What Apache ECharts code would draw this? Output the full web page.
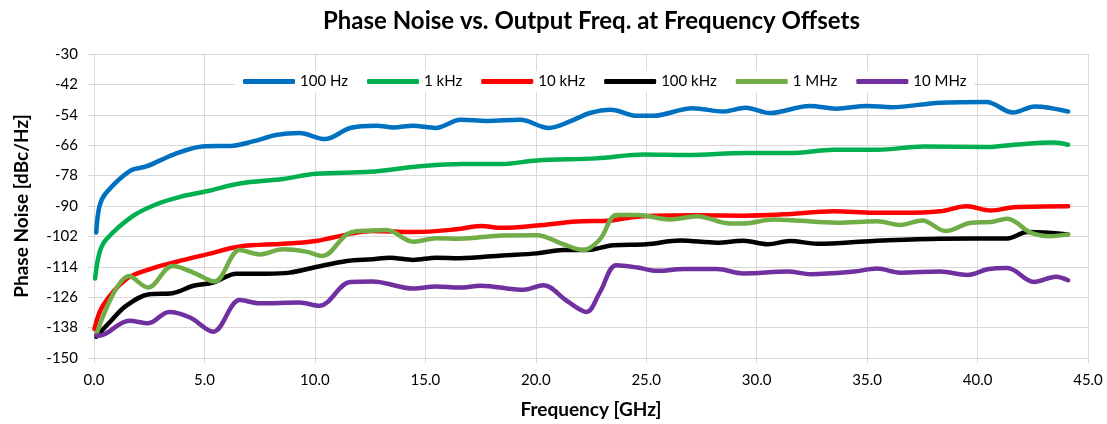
<!DOCTYPE html>
<html>
<head>
<meta charset="utf-8">
<script src="https://cdn.jsdelivr.net/npm/echarts@6/dist/echarts.min.js"></script>
<style>
  html, body { margin: 0; padding: 0; background: #fff; }
  #chart { width: 1107px; height: 424px; }
</style>
</head>
<body>
<div id="chart"></div>
<script>
// Phase noise (dBc/Hz) against output frequency (GHz), one trace per offset
const offsetNames = ['100 Hz', '1 kHz', '10 kHz', '100 kHz', '1 MHz', '10 MHz'];
const lineColors = ['#0070C0', '#00B050', '#FF0000', '#000000', '#70AD47', '#7030A0'];

const freq100Hz = [0.1, 0.25, 0.55, 1.6, 2.4, 3.6, 4.9, 6.3, 7.2, 8.3, 9.3, 10.45, 11.6, 12.8, 13.55, 14.45, 15.45, 16.6, 17.8, 19.3, 20.6, 21.55, 22.45, 23.4, 24.6, 25.3, 27.1, 28.5, 29.5, 30.6, 32.4, 33.6, 35.0, 36.1, 38.3, 40.4, 41.6, 42.6, 44.1];
const pn100Hz = [-100.5, -90, -84.8, -76.3, -74.3, -69.7, -66.5, -66.2, -64.5, -61.9, -61.2, -63.6, -59.2, -58.3, -59, -58.3, -59.2, -56, -56.4, -56, -59.2, -56.6, -53.3, -52, -54.4, -54.4, -51.4, -52.7, -51.2, -53.3, -50.5, -51.6, -50.5, -51, -49.2, -48.9, -53.1, -50.7, -52.7];

const freq1kHz = [0.05, 0.25, 0.55, 1.75, 2.8, 3.9, 5.1, 6.6, 8.55, 10.05, 12.5, 14.75, 16.7, 18.5, 20.05, 22.75, 24.9, 26.85, 29.5, 31.5, 33.5, 35.45, 37.55, 40.45, 41.65, 43.45, 44.1];
const pn1kHz = [-118.6, -108.4, -103.2, -94, -89.4, -86.4, -84.2, -81.1, -79.3, -77.3, -76.5, -74.3, -73.4, -73.4, -72, -71.2, -69.7, -69.9, -69.1, -69.1, -67.8, -67.8, -66.5, -66.7, -65.8, -64.9, -65.8];

const freq10kHz = [0.02, 0.4, 1.45, 2.5, 3.7, 5.1, 6.6, 8.55, 10.05, 11.7, 12.6, 14.45, 16.4, 17.5, 18.5, 20.05, 21.85, 23.4, 24.6, 27.3, 29.4, 31.2, 33.5, 35.3, 36.5, 38.3, 39.5, 40.6, 41.65, 44.1];
const pn10kHz = [-138.6, -129.4, -118.9, -115, -112.1, -109.1, -106, -104.9, -103.8, -100.8, -99.9, -100.3, -99.2, -97.9, -98.6, -97.7, -96.1, -95.7, -94.2, -93.7, -93.8, -93.3, -92.1, -92.7, -92.7, -92.1, -90.1, -91.8, -90.5, -90.1];

const freq100kHz = [0.1, 0.7, 1.45, 2.5, 3.55, 4.5, 5.4, 6.45, 7.8, 8.85, 10.05, 11.45, 12.6, 13.4, 14.45, 15.5, 16.55, 18.5, 20.05, 21.25, 22.3, 23.5, 25.0, 26.55, 28.2, 29.4, 30.5, 31.5, 32.75, 35.3, 38.3, 41.35, 42.25, 44.1];
const pn100kHz = [-141.6, -136, -129.4, -124.8, -124.4, -121.5, -120.2, -116.7, -116.7, -116.3, -114.1, -111.7, -111, -110.4, -111.3, -110.4, -110.6, -109.5, -108.7, -107.4, -107.4, -105.5, -105.1, -103.6, -104.5, -103.7, -105.1, -103.8, -104.9, -103.8, -102.9, -102.8, -100.3, -101.2];

const freq1MHz = [0.1, 1.6, 2.45, 3.55, 4.5, 5.45, 6.6, 7.5, 8.55, 9.6, 10.35, 11.6, 12.6, 13.25, 14.45, 15.5, 16.55, 18.5, 20.05, 21.25, 22.15, 22.9, 23.65, 24.6, 26.1, 27.3, 28.8, 29.4, 30.75, 33.65, 35.45, 36.5, 37.5, 38.55, 39.7, 40.6, 41.35, 42.4, 43.3, 44.1];
const pn1MHz = [-140.8, -117.6, -122.2, -113.7, -116.3, -119.8, -107.4, -109.1, -107.1, -108, -109.7, -100.5, -99.7, -99.5, -104.1, -102.7, -102.9, -101.6, -101.5, -105.1, -107.4, -103.2, -93.6, -93.6, -95.3, -94, -96.9, -96.9, -95.3, -96.6, -96, -97.5, -95.7, -99.9, -96.6, -96.3, -95, -100.5, -101.9, -101.2];

const freq10MHz = [0.1, 0.4, 1.6, 2.45, 3.4, 4.35, 5.4, 6.6, 7.5, 9.3, 10.2, 11.6, 12.6, 14.45, 15.5, 16.55, 17.5, 19.45, 20.35, 21.4, 22.3, 22.9, 23.65, 24.6, 25.5, 26.7, 28.2, 29.4, 31.4, 32.45, 34.4, 35.45, 36.5, 38.3, 39.55, 40.45, 41.35, 42.55, 43.55, 44.1];
const pn10MHz = [-141.2, -140.9, -135.3, -136.3, -131.8, -134, -139.6, -127.1, -128.4, -128.1, -129.4, -120, -119.8, -122.6, -121.8, -122.2, -121.5, -123.1, -121.3, -127.4, -131.8, -124.1, -113.4, -114.3, -115.6, -114.9, -114.9, -116.6, -115.9, -116.9, -115.9, -114.7, -116.3, -115.9, -117.2, -115, -114.5, -120, -117.9, -119.3];

const yTicks = [-30, -42, -54, -66, -78, -90, -102, -114, -126, -138, -150];

const freqs = [freq100Hz, freq1kHz, freq10kHz, freq100kHz, freq1MHz, freq10MHz];
const noise = [pn100Hz, pn1kHz, pn10kHz, pn100kHz, pn1MHz, pn10MHz];

const chart = echarts.init(document.getElementById('chart'));
const font = 'Lato, "Open Sans", sans-serif';
const gridColor = '#d9d9d9';

const series = offsetNames.map((name, i) => ({
  name: name,
  type: 'line',
  smooth: 0.35,
  showSymbol: false,
  symbol: 'none',
  data: freqs[i].map((f, k) => [f, noise[i][k]]),
  lineStyle: { width: 4.5, color: lineColors[i], cap: 'round', join: 'round' },
  itemStyle: { color: lineColors[i] },
  emphasis: { disabled: true },
  animation: false
}));

chart.setOption({
  animation: false,
  backgroundColor: '#ffffff',
  title: {
    text: 'Phase Noise vs. Output Freq. at Frequency Offsets',
    left: 318,
    top: 4,
    textStyle: { fontFamily: font, fontSize: 24, fontWeight: 'bold', color: '#000' }
  },
  legend: {
    data: offsetNames,
    top: 71,
    left: 235,
    itemWidth: 52,
    itemHeight: 5,
    itemGap: 19,
    icon: 'roundRect',
    backgroundColor: '#ffffff',
    padding: [3, 8, 3, 8],
    textStyle: { fontFamily: font, fontSize: 15, color: '#000' }
  },
  grid: { left: 94, right: 19, top: 54, bottom: 65 },
  xAxis: {
    type: 'value',
    min: 0,
    max: 45,
    interval: 5,
    name: 'Frequency [GHz]',
    nameLocation: 'middle',
    nameGap: 42,
    nameTextStyle: { fontFamily: font, fontSize: 19, fontWeight: 'bold', color: '#000' },
    axisLine: { show: true, lineStyle: { color: gridColor, width: 1 } },
    axisTick: { show: true, length: 5, lineStyle: { color: gridColor } },
    axisLabel: {
      fontFamily: font, fontSize: 15, color: '#000', margin: 15,
      formatter: v => v.toFixed(1)
    },
    splitLine: { show: true, lineStyle: { color: gridColor, width: 1 } }
  },
  yAxis: {
    type: 'value',
    min: -150,
    max: -30,
    interval: 12,
    name: 'Phase Noise [dBc/Hz]',
    nameLocation: 'middle',
    nameGap: 63,
    nameRotate: 90,
    nameTextStyle: { fontFamily: font, fontSize: 19, fontWeight: 'bold', color: '#000' },
    axisLine: { show: false },
    axisTick: { show: true, length: 6, lineStyle: { color: gridColor } },
    axisLabel: {
      fontFamily: font, fontSize: 15, color: '#000', margin: 16,
      formatter: v => (yTicks.includes(v) ? String(v) : '')
    },
    splitLine: { show: true, lineStyle: { color: gridColor, width: 1 } }
  },
  series: series
});
</script>
</body>
</html>
